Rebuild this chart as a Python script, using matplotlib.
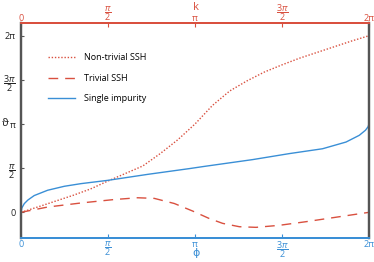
import numpy as np
import matplotlib
matplotlib.use("Agg")
import matplotlib.pyplot as plt

plt.rcParams['font.family'] = ['Open Sans', 'DejaVu Sans']
plt.rcParams['mathtext.fontset'] = 'custom'
plt.rcParams['mathtext.rm'] = 'Open Sans'
plt.rcParams['mathtext.it'] = 'Open Sans:italic'
plt.rcParams['mathtext.bf'] = 'Open Sans:bold'

PI = np.pi
# data in units of pi
phi_blue = [0, 0.005, 0.019, 0.04, 0.076, 0.153, 0.249, 0.345, 0.498, 0.728, 0.967,
            1.053, 1.331, 1.542, 1.733, 1.868, 1.944, 1.98, 1.995, 2.0]
th_blue = [0, 0.05, 0.099, 0.14, 0.19, 0.25, 0.295, 0.325, 0.362, 0.43, 0.495,
           0.52, 0.597, 0.665, 0.72, 0.796, 0.872, 0.93, 0.97, 1.0]

phi_nt = [0, 0.1, 0.2, 0.3, 0.4, 0.5, 0.6, 0.7, 0.8, 0.9, 1.0, 1.1, 1.2, 1.3, 1.4,
          1.5, 1.6, 1.7, 1.8, 1.9, 2.0]
th_nt = [0, 0.063, 0.128, 0.193, 0.265, 0.355, 0.44, 0.525, 0.665, 0.82, 1.0, 1.21,
         1.375, 1.49, 1.59, 1.67, 1.745, 1.81, 1.875, 1.94, 2.0]

phi_tr = [0, 0.153, 0.345, 0.536, 0.67, 0.766, 0.881, 0.986, 1.082, 1.159, 1.255,
          1.351, 1.485, 1.638, 1.829, 2.0]
th_tr = [0, 0.06, 0.106, 0.145, 0.165, 0.158, 0.10, 0.015, -0.07, -0.125, -0.163,
         -0.17, -0.147, -0.106, -0.05, 0]

tick_vals = [0, 0.5, 1, 1.5, 2]
tick_labels = ['0', r'$\dfrac{π}{2}$', 'π', r'$\dfrac{3π}{2}$', '2π']

RED = '#d9503f'
BLUE = '#3a8fd6'
GRAY = '#555555'

W, H = 374, 262
fig = plt.figure(figsize=(W/100, H/100), dpi=100)
l, r, t, b = 21, 369, 23, 237.5
ax = fig.add_axes([l/W, 1-b/H, (r-l)/W, (b-t)/H])

ax.plot(np.array(phi_nt)*PI, np.array(th_nt)*PI, color=RED, lw=1.0, ls=(0, (1, 1.3)),
        label='Non-trivial SSH')
ax.plot(np.array(phi_tr)*PI, np.array(th_tr)*PI, color=RED, lw=1.0, ls=(0, (7, 5)),
        label='Trivial SSH')
ax.plot(np.array(phi_blue)*PI, np.array(th_blue)*PI, color=BLUE, lw=1.0,
        label='Single impurity')

ax.set_xlim(0, 2*PI)
ax.set_ylim(-0.285*PI, 2.144*PI)

fs = 6.5

ax.set_xticks(np.array(tick_vals)*PI)
ax.set_xticklabels(tick_labels, color=BLUE, fontsize=fs)
ax.set_yticks(np.array(tick_vals)*PI)
ax.set_yticklabels(tick_labels, color='#222222', fontsize=fs)
ax.tick_params(axis='x', direction='in', length=3, width=0.8, color=BLUE, pad=1.5)
ax.tick_params(axis='y', direction='in', length=2, width=0.8, color=GRAY, pad=4)

ax2 = ax.twiny()
ax2.set_xlim(0, 2*PI)
ax2.set_xticks(np.array(tick_vals)*PI)
ax2.set_xticklabels(tick_labels, color=RED, fontsize=fs)
ax2.tick_params(axis='x', direction='in', length=3, width=0.8, color=RED, pad=0.2)

for a in (ax, ax2):
    a.spines['left'].set_color(GRAY)
    a.spines['right'].set_color(GRAY)
    a.spines['left'].set_linewidth(1.6)
    a.spines['right'].set_linewidth(1.6)
    a.spines['top'].set_color(RED)
    a.spines['top'].set_linewidth(1.4)
    a.spines['bottom'].set_color(BLUE)
    a.spines['bottom'].set_linewidth(1.4)

fig.text(196/W, 1-7/H, 'k', fontsize=8, color=RED, ha='center', va='center')
fig.text(196/W, 1-253/H, 'ϕ', fontsize=8, color=BLUE, ha='center', va='center')
fig.text(5/W, 1-124/H, 'ϑ', fontsize=8, color='#222222', ha='center', va='center')

leg = ax.legend(loc='upper left', bbox_to_anchor=((48-l)/(r-l), (b-53)/(b-t)),
                frameon=False, fontsize=fs, handlelength=3.0, handletextpad=1.0,
                labelspacing=1.3, borderpad=0, borderaxespad=0)

fig.savefig('out.png', dpi=100)
